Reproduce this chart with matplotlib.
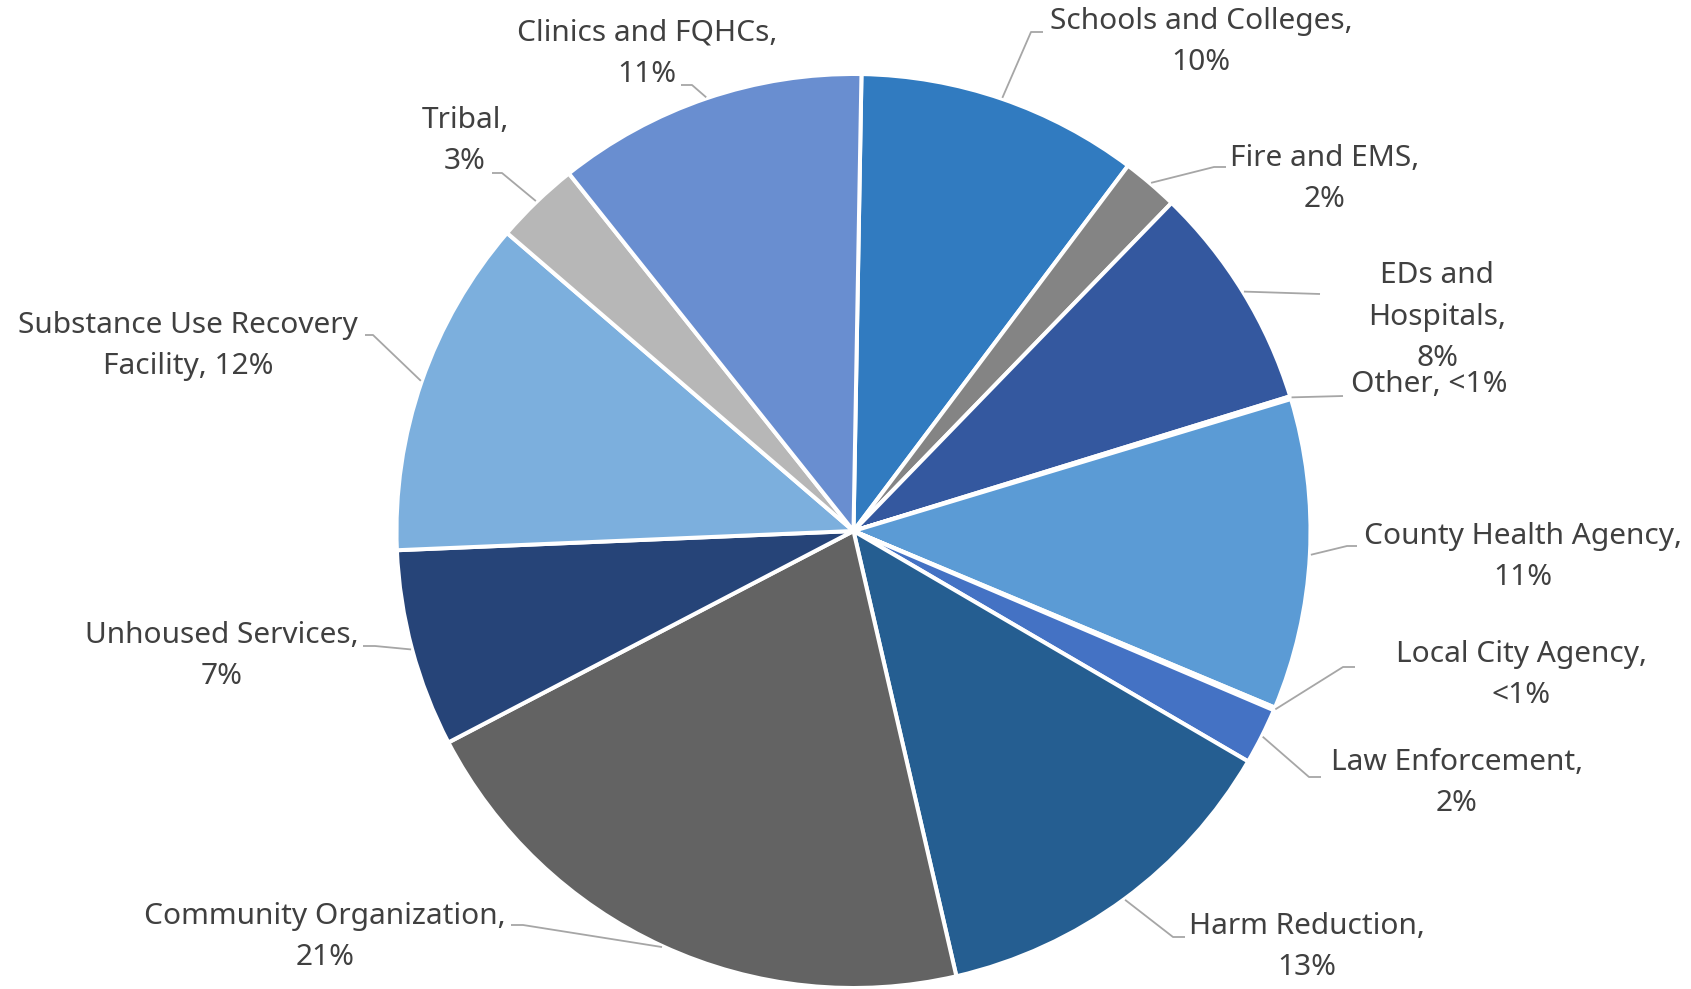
import matplotlib.pyplot as plt
import numpy as np

# share of respondents by organization type (clockwise from 12 o'clock)
categories = ["Schools and Colleges", "Fire and EMS", "EDs and Hospitals", "Other",
              "County Health Agency", "Local City Agency", "Law Enforcement",
              "Harm Reduction", "Community Organization", "Unhoused Services",
              "Substance Use Recovery Facility", "Tribal", "Clinics and FQHCs"]
shares = [10, 2, 8, 0.1, 11, 0.1, 2, 13, 21, 7, 12, 3, 11]
label_text = ["Schools and Colleges,\n10%", "Fire and EMS,\n2%", "EDs and\nHospitals,\n8%",
              "Other, <1%", "County Health Agency,\n11%", "Local City Agency,\n<1%",
              "Law Enforcement,\n2%", "Harm Reduction,\n13%", "Community Organization,\n21%",
              "Unhoused Services,\n7%", "Substance Use Recovery\nFacility, 12%", "Tribal,\n3%",
              "Clinics and FQHCs,\n11%"]
colors = ["#317BC0", "#848484", "#34589F", "#4A7FC8", "#5B9BD5", "#3A6BB8", "#4472C4",
          "#255E91", "#636363", "#264478", "#7CAFDD", "#B7B7B7", "#698ED0"]

# label layout in pixels (y from top): text centre, stub start, elbow
text_pos = [(1201, 42), (1325, 179), (1437, 317), (1429, 385), (1523, 557), (1521, 675),
            (1457, 783), (1307, 947), (325, 937), (222, 656), (188, 346), (465, 141), (647, 54)]
stub_start = [(1043, 32), (1226, 167), (1320, 294), (1343, 396), (1357, 546), (1355, 667),
              (1321, 777), (1185, 937), (511, 925), (363, 646), (365, 335), (492, 173), (681, 85)]
stub_end = [(1031, 32), (1214, 167), (1320, 294), (1343, 396), (1347, 546), (1343, 667),
            (1309, 777), (1173, 937), (523, 925), (375, 646), (373, 335), (502, 173), (692, 85)]

W, H = 1691, 989
cx, cy, R = 853.5, 531, 457

plt.rcParams['font.family'] = ['Noto Sans', 'DejaVu Sans']
fig = plt.figure(figsize=(W / 100, H / 100), dpi=100)
ax = fig.add_axes([0, 0, 1, 1])

wedges, _ = ax.pie(shares, colors=colors, startangle=89, counterclock=False,
                   center=(cx, H - cy), radius=R,
                   wedgeprops=dict(edgecolor='white', linewidth=2.9))
ax.set_xlim(0, W)
ax.set_ylim(0, H)
ax.set_aspect('equal')
ax.axis('off')

for w, txt, tp, s0, s1 in zip(wedges, label_text, text_pos, stub_start, stub_end):
    ang = np.deg2rad((w.theta1 + w.theta2) / 2)
    px = cx + (R + 1) * np.cos(ang)
    py = (H - cy) + (R + 1) * np.sin(ang)
    ax.plot([s0[0], s1[0], px], [H - s0[1], H - s1[1], py], color='#A6A6A6', lw=1.3,
            solid_capstyle='butt', zorder=1)
    ax.text(tp[0], H - tp[1], txt, ha='center', va='center', multialignment='center',
            fontsize=21.5, color='#404040', linespacing=1.55)

fig.savefig("out.png", dpi=100)
